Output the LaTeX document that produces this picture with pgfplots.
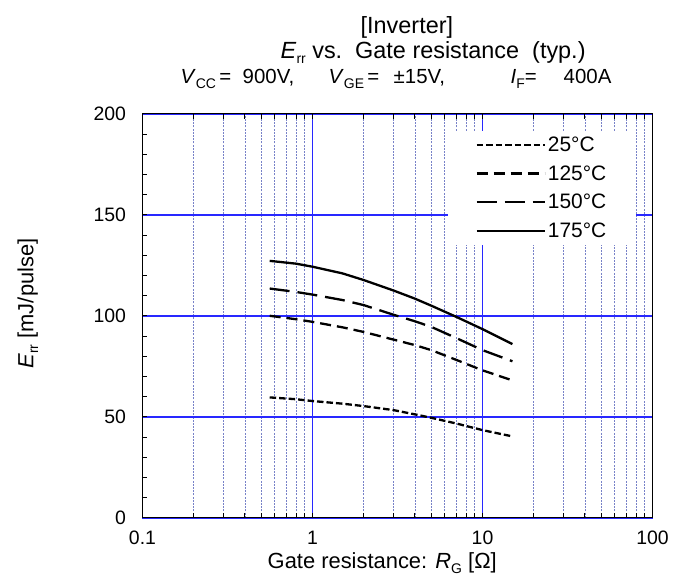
\documentclass[border=0pt]{standalone}
\usepackage{pgfplots}
\pgfplotsset{compat=1.18}
\usepackage{fontspec}
\setmainfont{Liberation Sans}
\newcommand{\sub}[1]{\raisebox{-0.4ex}{\fontsize{14}{14}\selectfont #1}}
\definecolor{gridmaj}{RGB}{40,40,255}
\definecolor{gridmin}{RGB}{120,130,200}

\begin{document}
\begin{tikzpicture}[x=1bp,y=1bp]
\path (-142.5,-64.2) rectangle (545.5,517.8);
\begin{axis}[
  at={(0,0)}, anchor=south west,
  scale only axis, width=510bp, height=404bp,
  xmode=log, xmin=0.1, xmax=100, ymin=0, ymax=200,
  xtick={0.1,1,10,100}, xticklabels={0.1,1,10,100},
  ytick={0,50,100,150,200},
  minor y tick num=4,
  xmajorgrids=true, xminorgrids=true, ymajorgrids=true, yminorgrids=false,
  major grid style={gridmaj, line width=1.45bp},
  minor grid style={gridmin, line width=0.7bp, dash pattern=on 2bp off 1.2bp},
  axis line style={black, line width=1.2bp},
  tick align=inside, ytick pos=left, xtick pos=both,
  major tick length=5bp, minor tick length=5bp,
  tick style={black, line width=0.8bp},
  /pgf/number format/assume math mode=true,
  tick label style={font=\fontsize{19.5}{20}\selectfont},
  xticklabel style={yshift=-10bp},
  yticklabel style={xshift=-13bp},
  legend style={at={(0.9686,0.958)}, anchor=north east, fill=white, draw=none,
    font=\fontsize{21}{21}\selectfont, row sep=8.5bp, inner xsep=28bp, inner ysep=4bp},
  legend cell align=left,
  legend image code/.code={\path (0bp,0bp) -- (68bp,0bp);\draw[#1] (0bp,0bp) -- (65bp,0bp);},
  every axis plot/.append style={black, line width=2.3bp},
]
\addplot[dash pattern=on 6.5bp off 3bp] coordinates {
(0.56,59.6) (0.8,58.7) (1,57.8) (1.5,56.5) (2,55.3) (3,53.3) (4,51.2) (5,49.5) (7,46.7) (10,43.4) (15,40.3)};
\addlegendentry{25°C}
\addplot[dash pattern=on 11bp off 6bp] coordinates {
(0.56,100) (0.8,98.3) (1,97) (1.5,94.3) (2,92) (3,88.2) (4,85.5) (5,83) (7,78.2) (10,73) (15,68)};
\addlegendentry{125°C}
\addplot[dash pattern=on 20bp off 8bp] coordinates {
(0.56,113.5) (0.8,111.8) (1,110.5) (1.5,107.8) (2,105.3) (3,100.5) (4,97.3) (5,94.5) (7,89) (10,83) (15,77.5)};
\addlegendentry{150°C}
\addplot[solid] coordinates {
(0.56,127.2) (0.8,125.8) (1,124.3) (1.5,121) (2,117.7) (3,112.5) (4,108.5) (5,105) (7,99.5) (10,93.4) (15,86)};
\addlegendentry{175°C}
\end{axis}
% titles
\node[anchor=base west, inner sep=0, font=\fontsize{23.5}{23.5}\selectfont] at (218,484) {[Inverter]};
\node[anchor=base west, inner sep=0, font=\fontsize{23.5}{23.5}\selectfont] at (138,459) {\textit{E}\sub{rr} vs.\ \ Gate resistance\ \ (typ.)};
\node[anchor=base west, inner sep=0, font=\fontsize{20.5}{20.5}\selectfont] at (38,434) {\textit{V}\sub{CC}\,=};
\node[anchor=base west, inner sep=0, font=\fontsize{20.5}{20.5}\selectfont] at (100,434) {900V,};
\node[anchor=base west, inner sep=0, font=\fontsize{20.5}{20.5}\selectfont] at (186,434) {\textit{V}\sub{GE}\,=};
\node[anchor=base west, inner sep=0, font=\fontsize{20.5}{20.5}\selectfont] at (251,434) {±15V,};
\node[anchor=base west, inner sep=0, font=\fontsize{20.5}{20.5}\selectfont] at (368,434) {\textit{I}\sub{F}=};
\node[anchor=base west, inner sep=0, font=\fontsize{20.5}{20.5}\selectfont] at (421,434) {400A};
% axis labels
\node[anchor=base west, inner sep=0, font=\fontsize{22}{22}\selectfont] at (125,-51) {Gate resistance: \textit{R}\sub{G} [Ω]};
\node[anchor=base west, inner sep=0, rotate=90, font=\fontsize{22}{22}\selectfont] at (-109,149) {\textit{E}\sub{rr} [mJ/pulse]};
\end{tikzpicture}
\end{document}
